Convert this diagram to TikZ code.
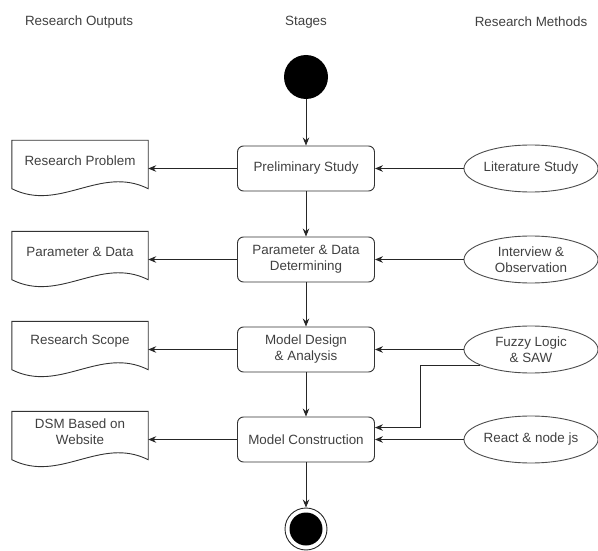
\documentclass[tikz,border=0pt]{standalone}
\usepackage{fontspec}
\setmainfont{Liberation Sans}
\usetikzlibrary{shapes.geometric,arrows.meta}

\tikzset{
  txt/.style={text=black!75, font=\fontsize{13.4}{16}\selectfont},
  stage/.style={txt, draw=black!80, line width=0.9pt, rounded corners=6pt,
                minimum width=137pt, minimum height=45pt, align=center},
  method/.style={txt, ellipse, draw=black!70, line width=0.9pt, inner sep=0pt,
                 minimum width=134pt, minimum height=47pt, align=center},
  output/.style={txt, inner sep=0pt, minimum width=136pt, minimum height=40pt, align=center},
  arr/.style={draw=black!85, line width=0.9pt, -{Stealth[length=8pt,width=6.5pt]}}
}

\begin{document}
\begin{tikzpicture}[x=1pt,y=-1pt]
\useasboundingbox (0,0) rectangle (598,551);
% headers
\node[txt] (hout) at (79,22) {Research Outputs};
\node[txt] (hst) at (306,22) {Stages};
\node[txt] (hme) at (531,22) {Research Methods};

% stages
\node[circle, fill=black, inner sep=0pt, minimum size=44pt] (start) at (306,77) {};
\node[stage] (ps) at (306,168.5) {Preliminary Study};
\node[stage] (pd) at (306,259.5) {Parameter \& Data\\Determining};
\node[stage] (md) at (306,349.5) {Model Design\\\& Analysis};
\node[stage] (mc) at (306,439.5) {Model Construction};
\node[circle, draw=black!85, line width=0.9pt, inner sep=0pt, minimum size=42pt] (end) at (306,529) {};
\node[circle, fill=black, inner sep=0pt, minimum size=33pt] (endin) at (end) {};

% outputs
\node[output] (rp) at (80,160.5) {Research Problem};
\node[output] (pdo) at (80,251.5) {Parameter \& Data};
\node[output] (rs) at (80,341.5) {Research Scope};
\node[output] (dsm) at (80,431.5) {DSM Based on\\Website};

% methods
\node[method] (ls) at (531,168.5) {Literature Study};
\node[method] (io) at (531,259.5) {Interview \&\\Observation};
\node[method] (fz) at (531,349.5) {Fuzzy Logic\\\& SAW};
\node[method] (rn) at (531,439.5) {React \& node js};

\foreach \o in {rp,pdo,rs,dsm}
  \draw[draw=black!80, line width=0.9pt] (\o.north west) -- (\o.north east) -- ([yshift=-8pt]\o.south east)
    .. controls ([xshift=-48pt,yshift=16pt]\o.south east) and ([xshift=48pt,yshift=-32pt]\o.south west)
    .. ([yshift=-8pt]\o.south west) -- cycle;

\draw[arr] (start) -- (ps);
\draw[arr] (ps) -- (pd);
\draw[arr] (pd) -- (md);
\draw[arr] (md) -- (mc);
\draw[arr] (mc) -- (end);

\foreach \s/\o in {ps/rp, pd/pdo, md/rs, mc/dsm}
  \draw[arr] (\s.west) -- (\s.west -| \o.east);
\foreach \m/\s in {ls/ps, io/pd, fz/md, rn/mc}
  \draw[arr] (\m.west) -- (\s.east);

\draw[arr] (fz.197) -| ([xshift=45pt,yshift=-11pt]mc.north east) -- ([yshift=-11pt]mc.north east);
\end{tikzpicture}
\end{document}
